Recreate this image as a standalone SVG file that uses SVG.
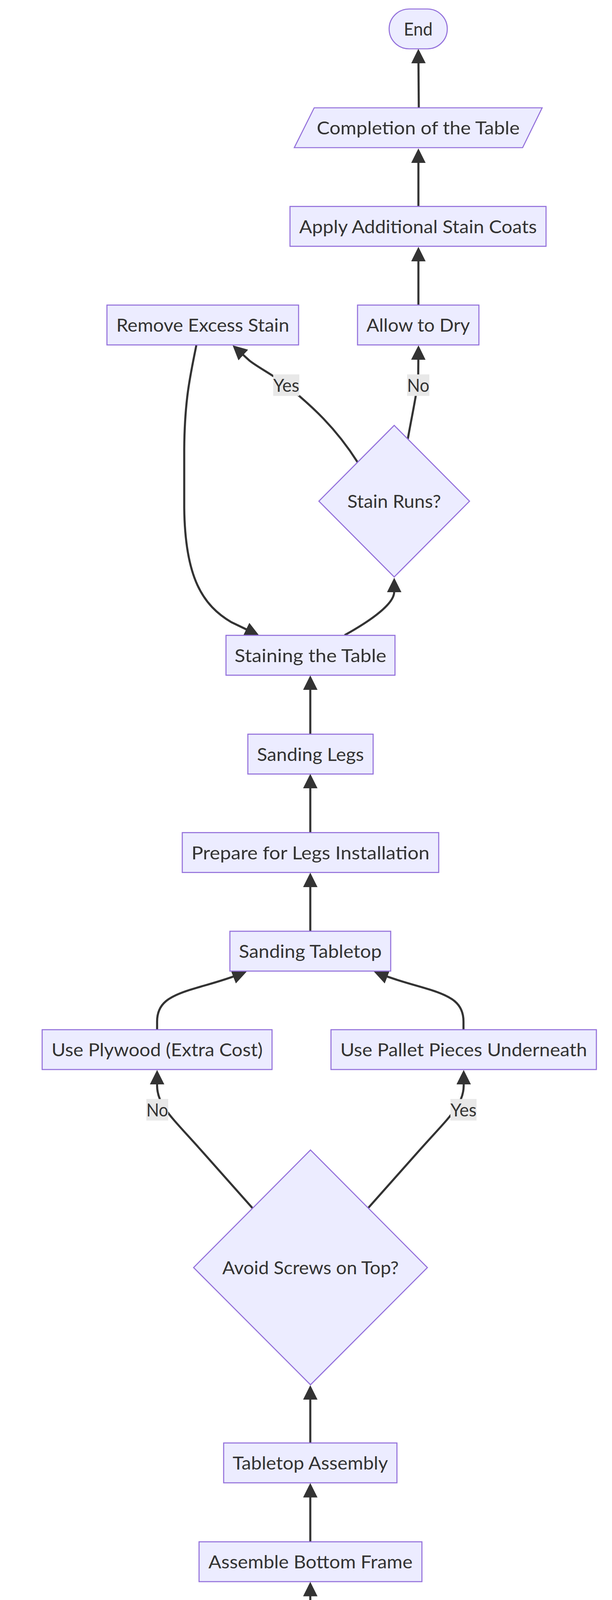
<svg xmlns="http://www.w3.org/2000/svg" width="1568" height="6082" viewBox="0 0 1568 6082">
<style>
.n rect,.n polygon{fill:#ECECFF;stroke:#9370DB;stroke-width:2.7}
.t{font-family:Lato,"Open Sans","Liberation Sans",sans-serif;font-size:47px;fill:#333333;text-anchor:middle}
.e{fill:none;stroke:#333333;stroke-width:5.3;marker-end:url(#arr)}
.lb rect{fill:#E8E8E8}
</style>
<defs>
<marker id="arr" viewBox="0 0 10 10" refX="5" refY="5" markerUnits="userSpaceOnUse" markerWidth="37" markerHeight="37" orient="auto"><path d="M0,0 L10,5 L0,10 z" fill="#333333"/></marker>
</defs>
<rect width="1568" height="6082" fill="#FFFFFF"/>
<g id="edges">
<path class="e" d="M508,5891 L508.5,5761"/>
<path class="e" d="M509,5639.5 L508,5509.5"/>
<path class="e" d="M600,5387 C660,5315 735,5300 735,5258"/>
<path class="e" d="M625,4869 C580,4815 500,4720 446,4657.5 C405,4625 365,4620 338,4599 L311,4570"/>
<path class="e" d="M773,4800 C785,4720 793,4650 795,4600 L795,4574.5"/>
<path class="e" d="M204,4556 C192,4630 175,4690 174,4780 L174,5068 C176,5230 220,5310 301,5353 L355.3,5379"/>
<path class="e" d="M795,4452 L795,4320.5"/>
<path class="e" d="M795,4199.5 L795,4068"/>
<path class="e" d="M795,3947 L795,3815"/>
<path class="e" d="M795,3694 L795,3564.5"/>
<path class="e" d="M648,3094 L520,2950 C440,2860 403,2830 402.5,2780 L402.5,2757.5"/>
<path class="e" d="M942,3094 L1070,2950 C1150,2860 1187.5,2830 1188,2780 L1188,2757.5"/>
<path class="e" d="M402.5,2636 L402.5,2615 C402.5,2570 430,2550 500,2530 C540,2518 570,2511 614.8,2493.8"/>
<path class="e" d="M1187.5,2636 L1187.5,2615 C1187.5,2570 1160,2550 1090,2530 C1050,2518 1020,2511 975.2,2493.8"/>
<path class="e" d="M795,2384 L795,2252.5"/>
<path class="e" d="M795,2131.5 L795,1999.5"/>
<path class="e" d="M795,1879.5 L795,1747.5"/>
<path class="e" d="M883,1626 C935,1597 1010,1550 1010,1515 L1010,1497.5"/>
<path class="e" d="M916,1183 C860,1095 800,1040 733.5,986 C700,960 660,940 639,923 L609.7,896.4"/>
<path class="e" d="M1044.8,1124 C1056,1060 1070,1000 1071.5,960 L1072,902.5"/>
<path class="e" d="M503,884 C488,960 473,1020 472,1150 L472,1300 C474,1480 520,1550 593,1593 L647.4,1619"/>
<path class="e" d="M1072,781 L1072,650.5"/>
<path class="e" d="M1072,528 L1072,398.5"/>
<path class="e" d="M1073,276 L1072,143.5"/>
</g>
<g id="edge-labels">
<g class="lb"><rect x="700" y="958.5" width="67" height="55"/><text class="t" x="733.5" y="1003" textLength="67" lengthAdjust="spacingAndGlyphs">Yes</text></g>
<g class="lb"><rect x="1043" y="958.5" width="57" height="55"/><text class="t" x="1071.5" y="1003" textLength="57" lengthAdjust="spacingAndGlyphs">No</text></g>
<g class="lb"><rect x="375" y="2813.5" width="56" height="55"/><text class="t" x="403" y="2858" textLength="56" lengthAdjust="spacingAndGlyphs">No</text></g>
<g class="lb"><rect x="1154" y="2813.5" width="67" height="55"/><text class="t" x="1187.5" y="2858" textLength="67" lengthAdjust="spacingAndGlyphs">Yes</text></g>
<g class="lb"><rect x="412" y="4630" width="68" height="55"/><text class="t" x="446" y="4674.5" textLength="68" lengthAdjust="spacingAndGlyphs">Yes</text></g>
<g class="lb"><rect x="767" y="4630" width="57" height="55"/><text class="t" x="795.5" y="4674.5" textLength="57" lengthAdjust="spacingAndGlyphs">No</text></g>
</g>
<g id="end" class="n"><rect x="997" y="23" width="149" height="102" rx="51" ry="51"/><text class="t" x="1071.5" y="91" textLength="74" lengthAdjust="spacingAndGlyphs">End</text></g>
<g id="completion" class="n"><polygon points="805,276 1389,276 1339,378 754,378"/><text class="t" x="1071.5" y="344" textLength="520" lengthAdjust="spacingAndGlyphs">Completion of the Table</text></g>
<g id="apply" class="n"><rect x="743" y="528.5" width="656" height="102"/><text class="t" x="1071" y="596.5" textLength="609" lengthAdjust="spacingAndGlyphs">Apply Additional Stain Coats</text></g>
<g id="remove" class="n"><rect x="274" y="781" width="491" height="102"/><text class="t" x="519.5" y="849" textLength="443" lengthAdjust="spacingAndGlyphs">Remove Excess Stain</text></g>
<g id="allow" class="n"><rect x="916" y="781" width="311" height="102"/><text class="t" x="1071.5" y="849" textLength="265" lengthAdjust="spacingAndGlyphs">Allow to Dry</text></g>
<g id="stainruns" class="n"><polygon points="1010,1089 1203,1283 1010,1477 817,1283"/><text class="t" x="1010" y="1300" textLength="240" lengthAdjust="spacingAndGlyphs">Stain Runs?</text></g>
<g id="staining" class="n"><rect x="579" y="1626.5" width="433" height="102"/><text class="t" x="795.5" y="1694.5" textLength="389" lengthAdjust="spacingAndGlyphs">Staining the Table</text></g>
<g id="sandinglegs" class="n"><rect x="635" y="1879.5" width="321" height="102"/><text class="t" x="795.5" y="1947.5" textLength="274" lengthAdjust="spacingAndGlyphs">Sanding Legs</text></g>
<g id="preparelegs" class="n"><rect x="467" y="2131.5" width="657" height="102"/><text class="t" x="795.5" y="2199.5" textLength="610" lengthAdjust="spacingAndGlyphs">Prepare for Legs Installation</text></g>
<g id="sandingtop" class="n"><rect x="589" y="2384" width="412" height="102"/><text class="t" x="795" y="2452" textLength="366" lengthAdjust="spacingAndGlyphs">Sanding Tabletop</text></g>
<g id="plywood" class="n"><rect x="108" y="2636" width="589" height="102"/><text class="t" x="402.5" y="2704" textLength="541" lengthAdjust="spacingAndGlyphs">Use Plywood (Extra Cost)</text></g>
<g id="pallet" class="n"><rect x="848" y="2636" width="680" height="102"/><text class="t" x="1188" y="2704" textLength="632" lengthAdjust="spacingAndGlyphs">Use Pallet Pieces Underneath</text></g>
<g id="avoid" class="n"><polygon points="795.5,2944 1095,3245 795.5,3545 496,3245"/><text class="t" x="795.5" y="3262" textLength="452" lengthAdjust="spacingAndGlyphs">Avoid Screws on Top?</text></g>
<g id="tabletop" class="n"><rect x="573" y="3694" width="444" height="102"/><text class="t" x="795" y="3762" textLength="398" lengthAdjust="spacingAndGlyphs">Tabletop Assembly</text></g>
<g id="assemble" class="n"><rect x="510" y="3947" width="571" height="102"/><text class="t" x="795.5" y="4015" textLength="523" lengthAdjust="spacingAndGlyphs">Assemble Bottom Frame</text></g>
<g id="preparebottom" class="n"><rect x="527" y="4199.5" width="536" height="102"/><text class="t" x="795" y="4267.5" textLength="489" lengthAdjust="spacingAndGlyphs">Prepare Bottom Frame</text></g>
<g id="careful" class="n"><rect x="24" y="4452" width="392" height="102"/><text class="t" x="220" y="4520" textLength="345" lengthAdjust="spacingAndGlyphs">Be More Careful</text></g>
<g id="layout" class="n"><rect x="567" y="4452" width="457" height="102"/><text class="t" x="795.5" y="4520" textLength="410" lengthAdjust="spacingAndGlyphs">Layout and Cutting</text></g>
<g id="aggressive" class="n"><polygon points="733.5,4760.5 971,4998.5 733.5,5236.5 496,4998.5"/><text class="t" x="733.5" y="5015.5" textLength="331" lengthAdjust="spacingAndGlyphs">Too Aggressive?</text></g>
<g id="dismantle" class="n"><rect x="298" y="5387" width="419" height="102"/><text class="t" x="507.5" y="5455" textLength="373" lengthAdjust="spacingAndGlyphs">Dismantle Pallets</text></g>
<g id="gather" class="n"><polygon points="214,5639.5 852,5639.5 802,5741.5 163,5741.5"/><text class="t" x="507.5" y="5707.5" textLength="576" lengthAdjust="spacingAndGlyphs">Gather Materials and Tools</text></g>
<g id="start" class="n"><rect x="420" y="5891" width="176" height="103" rx="51.5" ry="51.5"/><text class="t" x="508" y="5959.5" textLength="105" lengthAdjust="spacingAndGlyphs">Start</text></g>
</svg>
